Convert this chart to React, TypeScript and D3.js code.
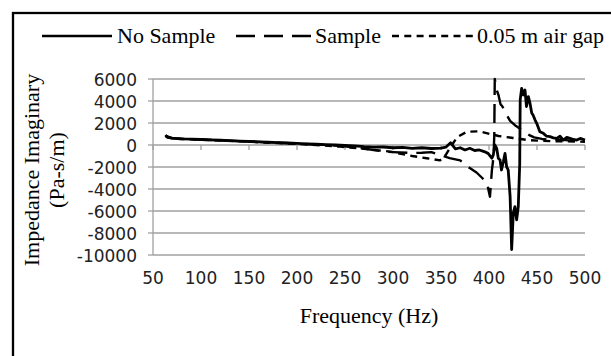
import { useEffect, useRef } from "react"
import * as d3 from "d3"

// Frequency (Hz) / imaginary impedance (Pa-s/m)
const noSampleFreq = [63, 65, 70, 80, 90, 100, 110, 120, 130, 140, 150, 160, 170, 180, 190, 200, 210, 220, 230, 240, 250, 260, 270, 280, 290, 300, 310, 320, 330, 340, 350, 355, 360, 365, 370, 375, 380, 385, 390, 395, 399, 403, 404.5, 406, 408, 409.7, 411.5, 413, 415, 416.7, 418.4, 420, 422, 423.6, 425.3, 427, 428.8, 430.5, 432, 432.5, 434, 435.7, 437.5, 439, 441, 442.7, 444.5, 446, 448, 449.7, 453, 456.6, 460, 463.5, 467, 470.5, 474, 477.4, 481, 484.4, 488, 491.4, 495, 500]
const noSampleVal = [900, 700, 620, 560, 530, 500, 470, 430, 400, 360, 320, 290, 250, 220, 180, 140, 100, 70, 40, 0, -30, -80, -150, -200, -180, -250, -220, -300, -250, -320, -280, -200, 200, -350, -250, -450, -300, -500, -450, -600, -760, -1200, -900, 0, -300, -1200, -1360, -2270, -1500, -760, -2000, -2270, -4700, -9500, -6200, -5600, -6800, -5600, -1700, 4100, 5150, 4550, 5000, 3500, 4400, 3800, 2900, 2700, 2270, 1970, 1200, 1060, 800, 760, 650, 600, 800, 450, 700, 600, 500, 450, 600, 450]

const sampleFreq = [63, 70, 80, 100, 120, 140, 160, 180, 200, 220, 240, 260, 280, 290, 300, 320, 330, 340, 349, 359, 370, 375, 380, 387, 393, 398, 401, 403, 404, 405, 405.5, 406, 408, 410, 412, 414, 418, 422, 427, 432, 437, 442, 447, 455, 465, 475, 485, 495, 500]
const sampleVal = [850, 600, 560, 500, 420, 350, 280, 200, 130, 50, -50, -200, -450, -600, -650, -730, -700, -650, -900, -1200, -1400, -1750, -2100, -2500, -3000, -3500, -4700, -2300, -1600, -400, 900, 6000, 5000, 4500, 3700, 3500, 2800, 2200, 1800, 1500, 1200, 900, 700, 550, 450, 500, 400, 450, 400]

const airGapFreq = [63, 70, 80, 100, 120, 140, 160, 180, 200, 220, 245, 270, 297, 320, 335, 349, 355, 360, 367, 377, 390, 401, 410, 425, 440, 453, 465, 480, 500]
const airGapVal = [800, 600, 550, 480, 400, 330, 250, 180, 100, 0, -150, -350, -600, -1000, -1200, -1400, -900, -180, 730, 1200, 1250, 1000, 820, 640, 450, 390, 350, 330, 300]

const xTicks = [50, 100, 150, 200, 250, 300, 350, 400, 450, 500]
const yTicks = [6000, 4000, 2000, 0, -2000, -4000, -6000, -8000, -10000]

const seriesNames = ["No Sample", "Sample", "0.05 m air gap"]

export default function App() {
  const svgRef = useRef<SVGSVGElement>(null)

  useEffect(() => {
    if (!svgRef.current) return
    const svg = d3.select(svgRef.current)
    svg.selectAll("*").remove()

    const x = d3.scaleLinear().domain([50, 500]).range([153, 585])
    const y = d3.scaleLinear().domain([-10000, 6000]).range([255, 79])

    const serif = "Liberation Serif, DejaVu Serif"
    const sans = "DejaVu Sans"
    const gridColor = "#a0a0a0"

    // outer frame
    svg
      .append("rect")
      .attr("x", 13)
      .attr("y", 13)
      .attr("width", 640)
      .attr("height", 400)
      .attr("fill", "none")
      .attr("stroke", "#000")
      .attr("stroke-width", 2.3)

    // gridlines
    svg
      .append("g")
      .selectAll("line")
      .data(yTicks.filter((d) => d !== 0))
      .enter()
      .append("line")
      .attr("x1", x(50))
      .attr("x2", x(500))
      .attr("y1", (d) => y(d))
      .attr("y2", (d) => y(d))
      .attr("stroke", gridColor)
      .attr("stroke-width", 1.3)

    // y axis
    svg
      .append("line")
      .attr("x1", x(50))
      .attr("x2", x(50))
      .attr("y1", y(6000))
      .attr("y2", y(-10000))
      .attr("stroke", gridColor)
      .attr("stroke-width", 1.3)

    svg
      .append("g")
      .selectAll("line")
      .data(yTicks)
      .enter()
      .append("line")
      .attr("x1", x(50) - 5)
      .attr("x2", x(50))
      .attr("y1", (d) => y(d))
      .attr("y2", (d) => y(d))
      .attr("stroke", gridColor)
      .attr("stroke-width", 1.3)

    svg
      .append("g")
      .selectAll("text")
      .data(yTicks)
      .enter()
      .append("text")
      .attr("x", 137)
      .attr("y", (d) => y(d) + 7)
      .attr("text-anchor", "end")
      .attr("fill", "#222")
      .attr("font-family", sans)
      .attr("font-size", 17)
      .text((d) => d)

    // x axis along zero
    svg
      .append("line")
      .attr("x1", x(50))
      .attr("x2", x(500))
      .attr("y1", y(0))
      .attr("y2", y(0))
      .attr("stroke", gridColor)
      .attr("stroke-width", 1.3)

    svg
      .append("g")
      .selectAll("line")
      .data(xTicks)
      .enter()
      .append("line")
      .attr("x1", (d) => x(d))
      .attr("x2", (d) => x(d))
      .attr("y1", y(0))
      .attr("y2", y(0) + 5)
      .attr("stroke", gridColor)
      .attr("stroke-width", 1.3)

    svg
      .append("g")
      .selectAll("text")
      .data(xTicks)
      .enter()
      .append("text")
      .attr("x", (d) => x(d))
      .attr("y", 284)
      .attr("text-anchor", "middle")
      .attr("fill", "#222")
      .attr("font-family", sans)
      .attr("font-size", 17)
      .text((d) => d)

    // axis titles
    svg
      .append("text")
      .attr("x", 369)
      .attr("y", 323)
      .attr("text-anchor", "middle")
      .attr("font-family", serif)
      .attr("font-size", 22)
      .text("Frequency (Hz)")

    const yTitle = ["Impedance Imaginary", "(Pa-s/m)"]
    svg
      .append("g")
      .selectAll("text")
      .data(yTitle)
      .enter()
      .append("text")
      .attr("transform", (d, i) => `translate(${39 + i * 25}, 170) rotate(-90)`)
      .attr("text-anchor", "middle")
      .attr("font-family", serif)
      .attr("font-size", 22)
      .text((d) => d)

    // series
    const dashes = ["none", "19,9", "7,5.3"]
    const series = [
      d3.zip(noSampleFreq, noSampleVal),
      d3.zip(sampleFreq, sampleVal),
      d3.zip(airGapFreq, airGapVal),
    ]
    const line = d3
      .line<number[]>()
      .x((d) => x(d[0]))
      .y((d) => y(d[1]))

    // air gap first, solid last on top
    ;[2, 1, 0].forEach((i) => {
      svg
        .append("path")
        .datum(series[i])
        .attr("d", line)
        .attr("fill", "none")
        .attr("stroke", "#000")
        .attr("stroke-width", i === 0 ? 2.8 : 2.4)
        .attr("stroke-dasharray", dashes[i])
        .attr("stroke-linejoin", "round")
    })

    // legend
    const legendItems = [
      { x0: 42, x1: 112, tx: 117 },
      { x0: 236, x1: 311, tx: 315 },
      { x0: 392, x1: 473, tx: 477 },
    ]
    const legend = svg
      .append("g")
      .selectAll("g")
      .data(legendItems)
      .enter()
      .append("g")

    legend
      .append("line")
      .attr("x1", (d) => d.x0)
      .attr("x2", (d) => d.x1)
      .attr("y1", 36)
      .attr("y2", 36)
      .attr("stroke", "#000")
      .attr("stroke-width", 2.4)
      .attr("stroke-dasharray", (d, i) => dashes[i])

    legend
      .append("text")
      .attr("x", (d) => d.tx)
      .attr("y", 43)
      .attr("font-family", serif)
      .attr("font-size", 22)
      .text((d, i) => seriesNames[i])
  }, [])

  return (
    <svg
      ref={svgRef}
      width={611}
      height={356}
      style={{ position: "absolute", left: 0, top: 0, background: "#fff" }}
    />
  )
}
